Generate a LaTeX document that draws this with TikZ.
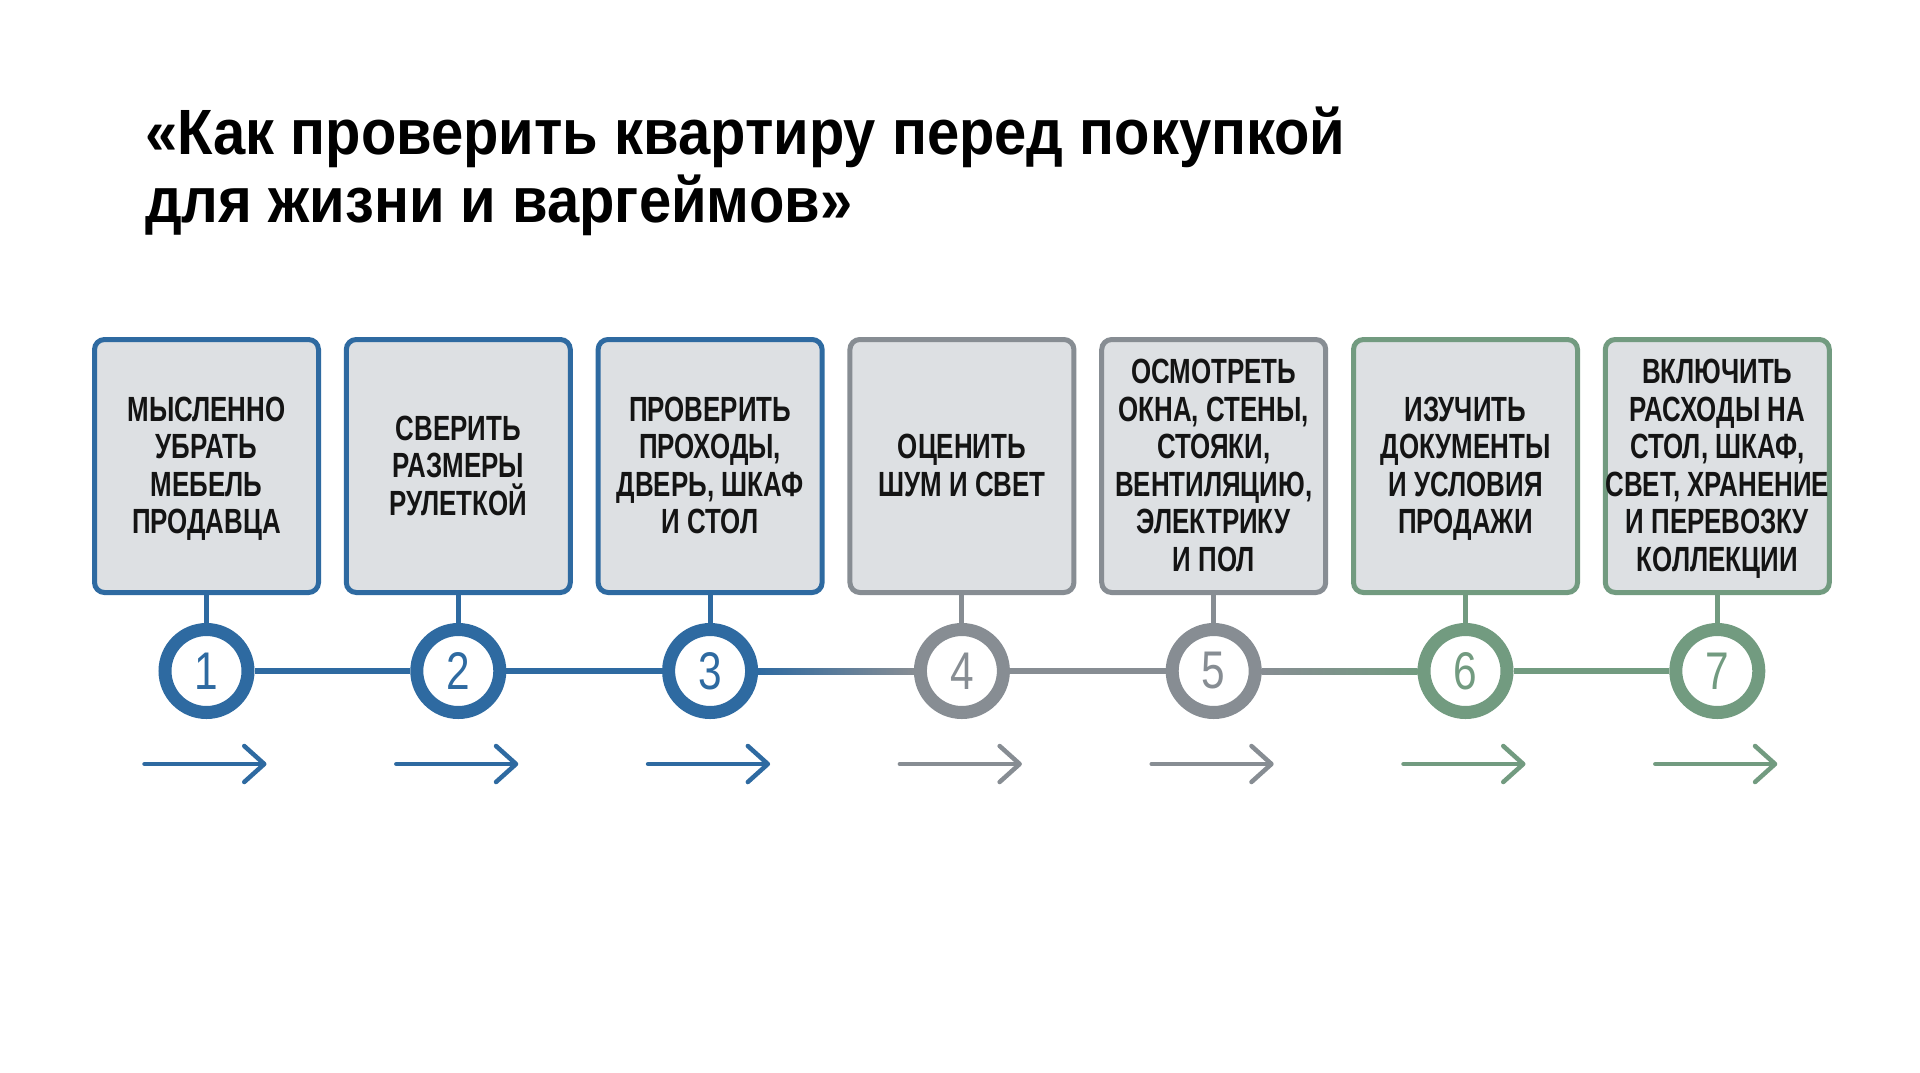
\documentclass[tikz,border=0pt]{standalone}
\usepackage{fontspec}
\setmainfont{Liberation Sans}
\newfontfamily\titlefont[FakeStretch=0.905]{Liberation Sans}
\newfontfamily\boxfont[FakeStretch=0.74]{Liberation Sans}
\newfontfamily\numfont[FakeStretch=0.8]{Liberation Sans}
\usetikzlibrary{arrows.meta,calc}
\definecolor{cblue}{HTML}{2E6AA1}
\definecolor{cgray}{HTML}{878D93}
\definecolor{cgreen}{HTML}{729B80}
\definecolor{boxfill}{HTML}{DDE0E3}
\definecolor{txt}{HTML}{141414}
\begin{document}
\begin{tikzpicture}[x=1pt,y=-1pt,
  stepbox/.style={draw, line width=5pt, rounded corners=10pt, fill=boxfill,
    minimum width=224pt, minimum height=253pt, inner sep=0pt, align=center,
    font=\boxfont\bfseries\fontsize{35}{37.5}\selectfont, text=txt},
  numring/.style={circle, draw, line width=13pt, fill=white, minimum size=83pt,
    inner sep=0pt, font=\numfont\fontsize{53}{53}\selectfont},
  stem/.style={line width=5pt},
  link/.style={line width=6pt},
  flow/.style={line width=4.5pt, line cap=round,
    -{Straight Barb[length=20pt,width=36pt,round]}},
  titletext/.style={anchor=base west, inner sep=0pt,
    font=\titlefont\bfseries\fontsize{64}{70}\selectfont, text=black}
]
\useasboundingbox (0,0) rectangle (1920,1072);
\fill[white] (0,0) rectangle (1920,1072);

\node[titletext] (t1) at (145,154) {«Как проверить квартиру перед покупкой};
\node[titletext] (t2) at (145,222) {для жизни и варгеймов»};

\foreach \i/\col/\txt in {
  1/cblue/{МЫСЛЕННО\\УБРАТЬ\\МЕБЕЛЬ\\ПРОДАВЦА},
  2/cblue/{СВЕРИТЬ\\РАЗМЕРЫ\\РУЛЕТКОЙ},
  3/cblue/{ПРОВЕРИТЬ\\ПРОХОДЫ,\\ДВЕРЬ, ШКАФ\\И СТОЛ},
  4/cgray/{ОЦЕНИТЬ\\ШУМ И СВЕТ},
  5/cgray/{ОСМОТРЕТЬ\\ОКНА, СТЕНЫ,\\СТОЯКИ,\\ВЕНТИЛЯЦИЮ,\\ЭЛЕКТРИКУ\\И ПОЛ},
  6/cgreen/{ИЗУЧИТЬ\\ДОКУМЕНТЫ\\И УСЛОВИЯ\\ПРОДАЖИ},
  7/cgreen/{ВКЛЮЧИТЬ\\РАСХОДЫ НА\\СТОЛ, ШКАФ,\\СВЕТ, ХРАНЕНИЕ\\И ПЕРЕВОЗКУ\\КОЛЛЕКЦИИ}} {
  \pgfmathsetmacro\xx{206.5+251.8*(\i-1)}
  \node[stepbox, draw=\col] (b\i) at (\xx,466) {\rule{0pt}{32pt}\txt\rule[-9pt]{0pt}{0pt}};
  \node[numring, draw=\col, text=\col] (c\i) at (\xx,671) {\i};
  \draw[stem, \col] (b\i.south) -- (c\i.north);
  \coordinate (a\i s) at (\xx-62,764);
  \coordinate (a\i e) at (\xx+60,764);
  \draw[flow, \col] (a\i s) -- (a\i e);
}

\draw[link, cblue] (c1.east) -- (c2.west);
\draw[link, cblue] (c2.east) -- (c3.west);
\shade[left color=cblue, right color=cgray] ($(c3.east)+(0,-3)$) rectangle ($(c4.west)+(0,3)$);
\draw[link, cgray] (c4.east) -- (c5.west);
\shade[left color=cgray, right color=cgreen] ($(c5.east)+(0,-3)$) rectangle ($(c6.west)+(0,3)$);
\draw[link, cgreen] (c6.east) -- (c7.west);
\end{tikzpicture}
\end{document}
